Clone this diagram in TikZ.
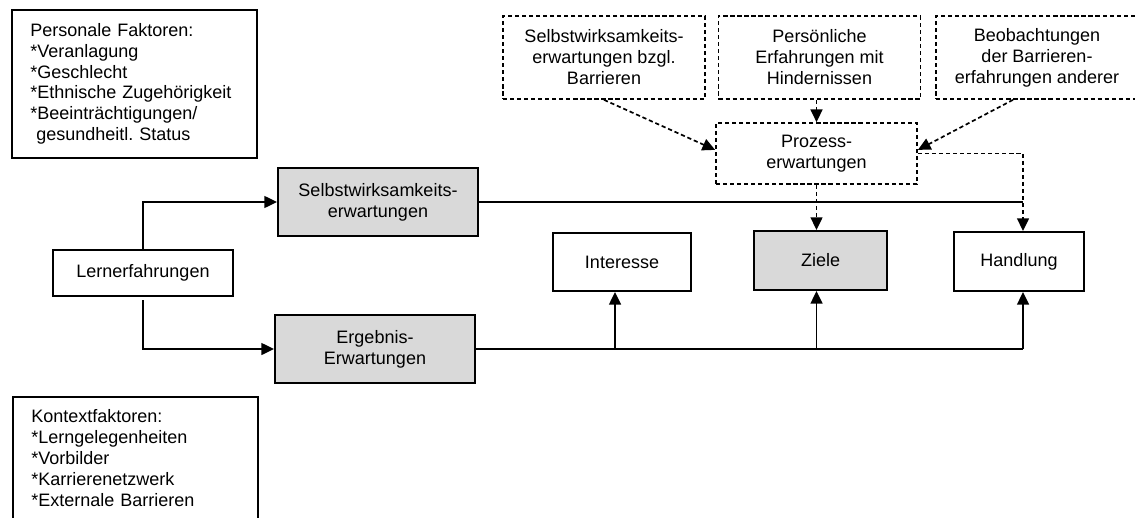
\documentclass[tikz,border=0pt]{standalone}
\usepackage{fontspec}
\setmainfont{Liberation Sans}
\usetikzlibrary{arrows.meta}
\begin{document}
\begin{tikzpicture}[x=0.025cm,y=-0.025cm,
    font=\fontsize{12.8}{14.9}\selectfont,
    box/.style={draw,line width=1.5pt,align=center,inner sep=0pt},
    shaded/.style={box,fill=black!15},
    dbox/.style={draw,line width=1.2pt,dash pattern=on 3pt off 2pt,align=center,inner sep=0pt},
    listbox/.style={align=left,text width=5.2cm,inner xsep=0.45cm},
    bus/.style={line width=1.3pt},
    conn/.style={bus,-{Triangle[length=9pt,width=8.5pt]}},
    dconn/.style={conn,line width=1.2pt,dash pattern=on 3pt off 2pt}]
    \useasboundingbox (0,0) rectangle (1135,518);
    \clip (0,0) rectangle (1135,518);
    \node[listbox,anchor=north west,inner ysep=0.32cm] (pers) at (12,10)
        {Personale Faktoren:\\{*}Veranlagung\\{*}Geschlecht\\{*}Ethnische Zugehörigkeit\\{*}Beeinträchtigungen/\\\ gesundheitl.\ Status};
    \draw[line width=1.5pt] (pers.north west) rectangle (pers.south east);
    \node[listbox,anchor=north west,inner ysep=0.31cm] (kontext) at (13,397)
        {Kontextfaktoren:\\{*}Lerngelegenheiten\\{*}Vorbilder\\{*}Karrierenetzwerk\\{*}Externale Barrieren};
    \draw[line width=1.5pt] (kontext.north west) rectangle ([yshift=-1cm]kontext.south east);
    \node[dbox,minimum width=5.05cm,minimum height=2.075cm] (bzgl) at (604,57.5) {Selbstwirksamkeits-\\erwartungen bzgl.\\Barrieren};
    \node[dbox,minimum width=5.05cm,minimum height=2.075cm] (hind) at (819.5,57.5) {Persönliche\\Erfahrungen mit\\Hindernissen};
    \node[dbox,minimum width=5.05cm,minimum height=2.075cm] (beob) at (1037,57.5) {Beobachtungen\\der Barrieren-\\erfahrungen anderer};
    \node[dbox,minimum width=5.025cm,minimum height=1.525cm] (prozess) at (816.5,153.5) {Prozess-\\erwartungen};
    \node[box,minimum width=4.5cm,minimum height=1.15cm] (lern) at (143,273) {Lernerfahrungen};
    \node[shaded,minimum width=5cm,minimum height=1.7cm] (selbst) at (378,202) {Selbstwirksamkeits-\\erwartungen};
    \node[shaded,minimum width=5cm,minimum height=1.7cm] (ergebnis) at (375,349) {Ergebnis-\\Erwartungen};
    \node[box,minimum width=3.45cm,minimum height=1.45cm] (interesse) at (622,262) {Interesse};
    \node[shaded,minimum width=3.325cm,minimum height=1.475cm] (ziele) at (820.5,260.5) {Ziele};
    \node[box,minimum width=3.25cm,minimum height=1.475cm] (handlung) at (1019,261.5) {Handlung};
    \coordinate (jint) at (615,349);
    \coordinate (jhan) at (1023,349);
    \coordinate (jzie) at (prozess.south |- jhan);
    \coordinate (jtop) at (jhan |- selbst.east);
    \draw[conn] (lern.north) |- (selbst.west);
    \draw[conn] ([yshift=-0.075cm]lern.south) |- (ergebnis.west);
    \draw[bus] (selbst.east) -- (jtop);
    \draw[bus] (ergebnis.east) -- (jhan);
    \draw[conn] (jint) -- (jint |- interesse.south);
    \draw[conn] (jzie) -- (jzie |- ziele.south);
    \draw[conn] (jhan) -- (jhan |- handlung.south);
    \draw[dconn] (bzgl.south) -- ([yshift=0.09cm]prozess.west);
    \draw[dconn] (prozess.north |- hind.south) -- (prozess.north);
    \draw[dconn] ([xshift=-0.6cm]beob.south) -- ([yshift=0.09cm]prozess.east);
    \draw[dconn] (prozess.east) -| (jtop |- handlung.north);
    \draw[dconn] (prozess.south) -- (prozess.south |- ziele.north);
\end{tikzpicture}
\end{document}
